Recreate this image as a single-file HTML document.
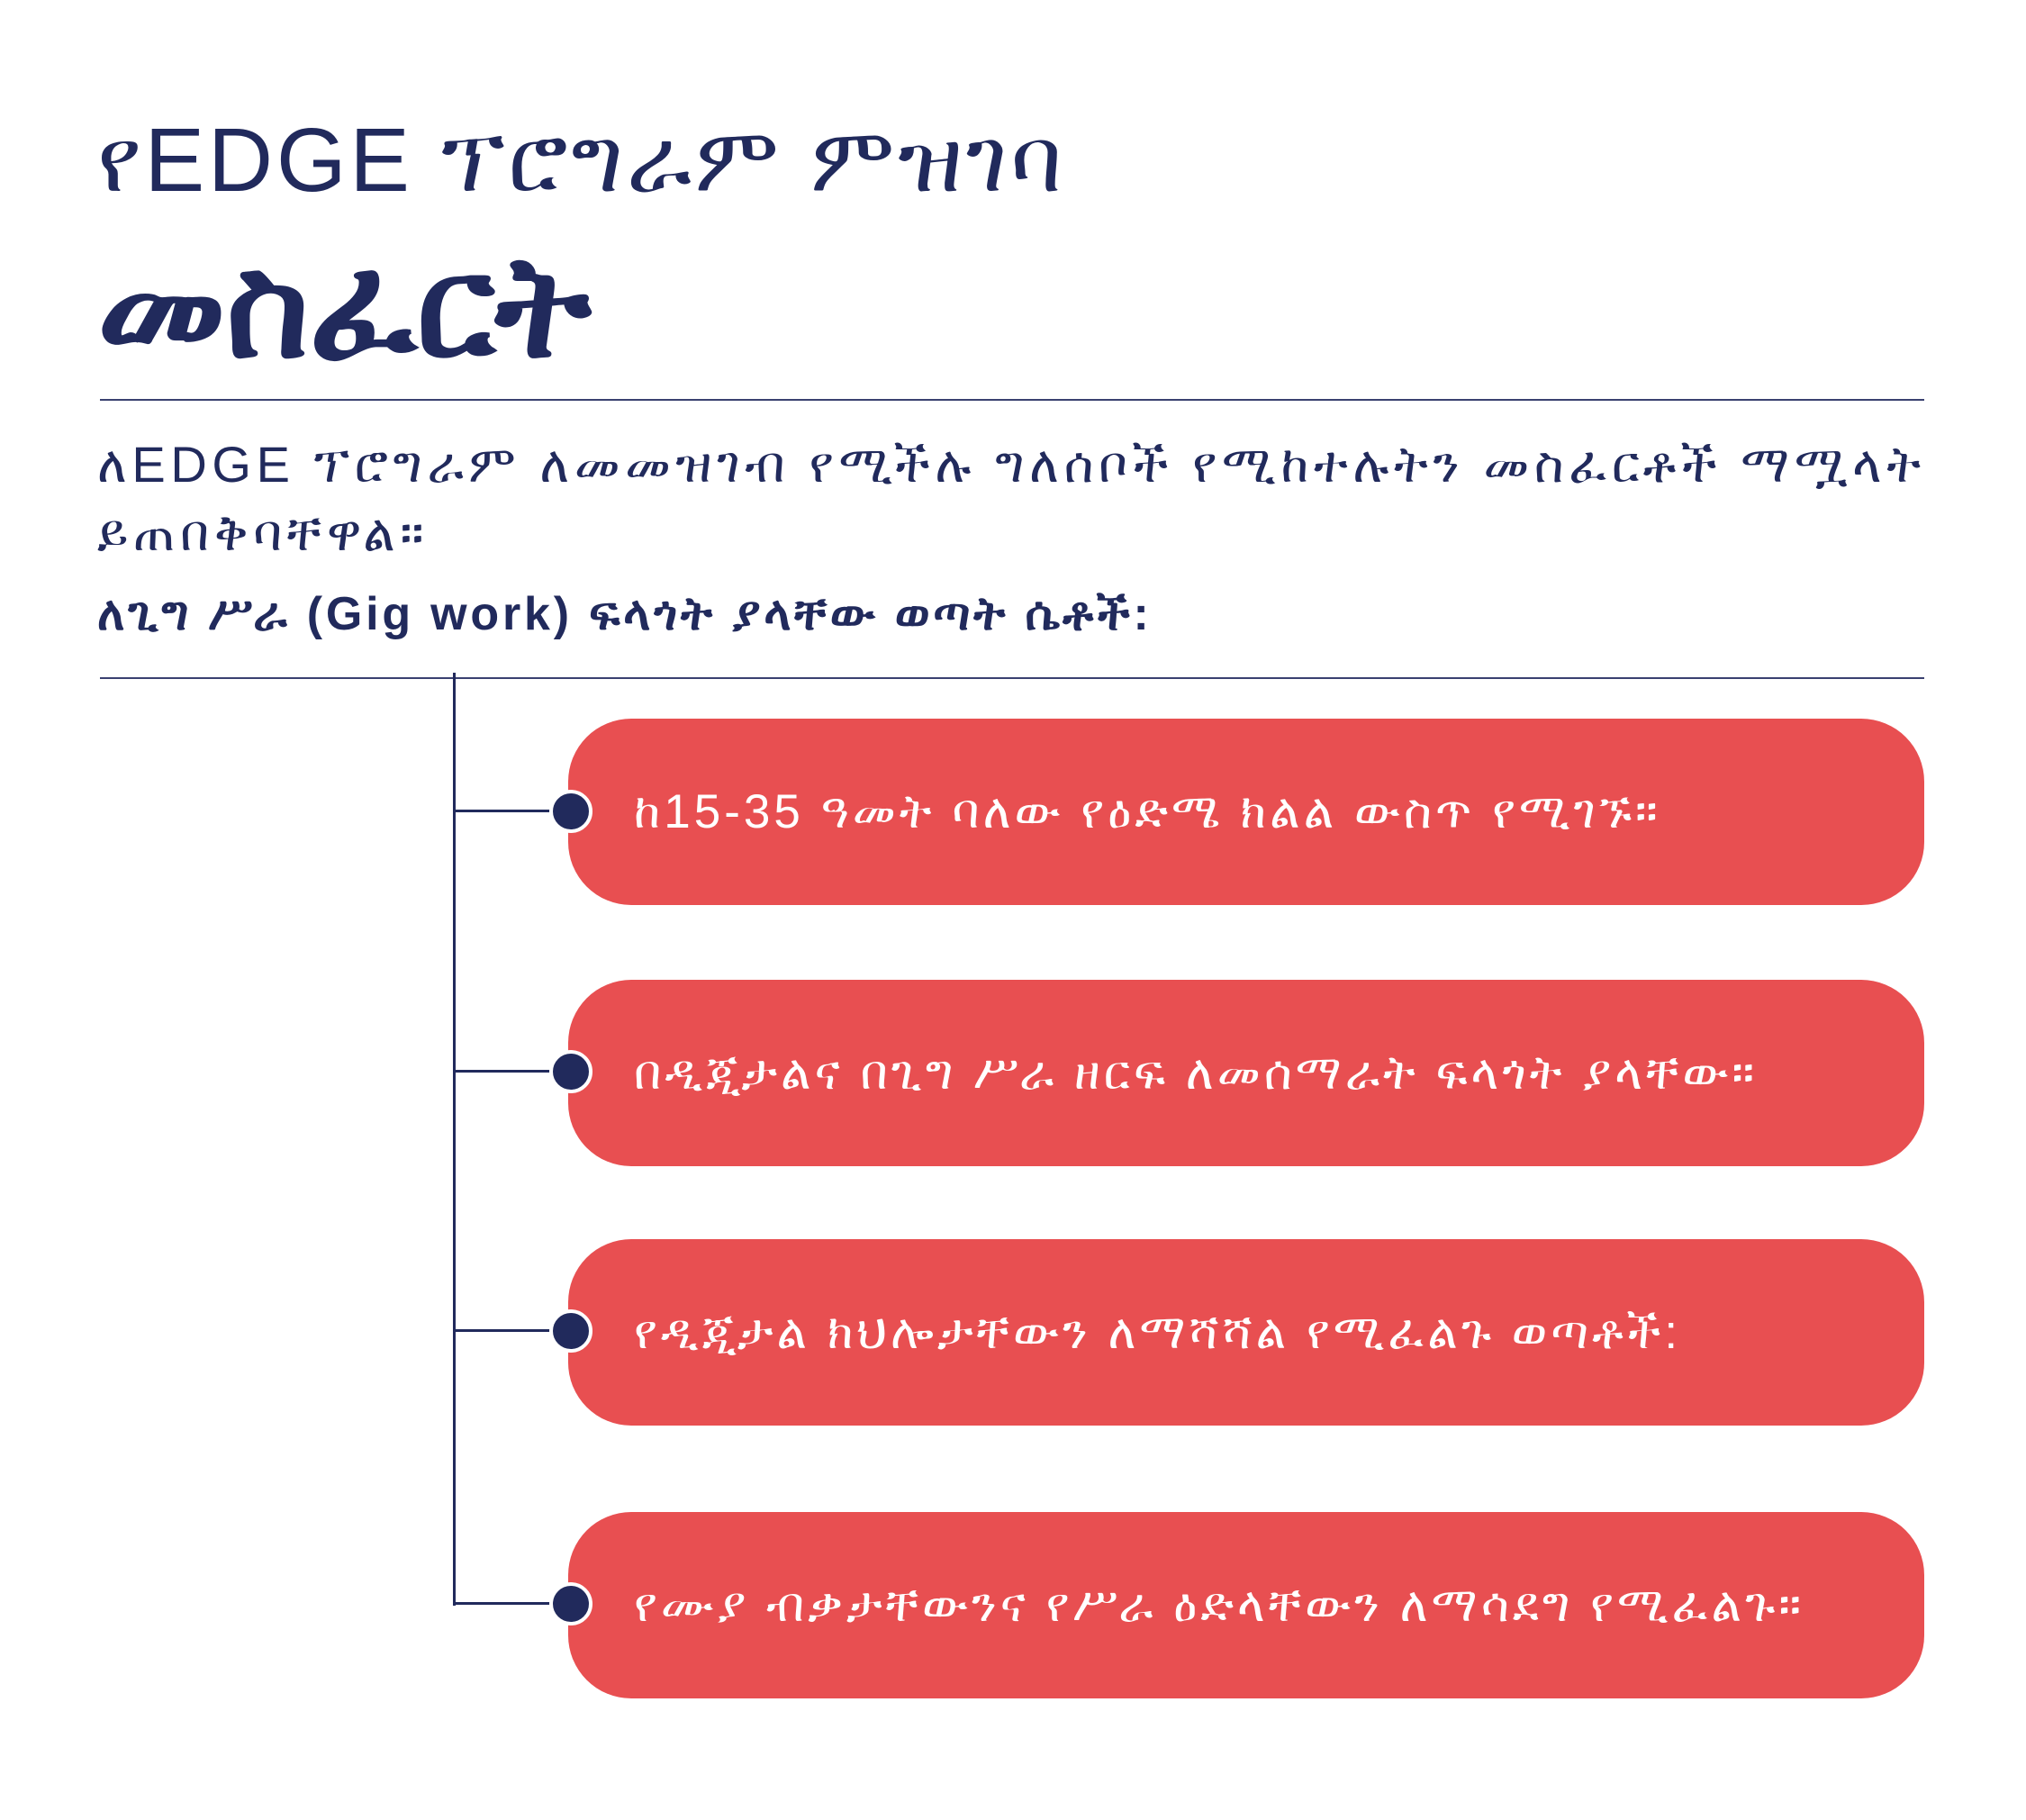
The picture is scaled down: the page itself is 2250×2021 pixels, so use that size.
<!DOCTYPE html>
<html><head><meta charset="utf-8"><style>
html,body{margin:0;padding:0;background:#fff;}
body{width:2250px;height:2021px;position:relative;overflow:hidden;font-family:"Liberation Sans","DejaVu Sans",sans-serif;color:#212a5c;}
.t{position:absolute;white-space:nowrap;line-height:1;}
.rule{position:absolute;left:111px;width:2026px;height:2px;background:#3a4170;}
.box{position:absolute;left:631px;width:1506px;height:207px;background:#e84f51;border-radius:70px;}
.box span{position:absolute;left:73px;top:50%;transform:translateY(-50%);color:#fff;font-size:53px;letter-spacing:4px;white-space:nowrap;}
.dot{position:absolute;left:610px;width:40px;height:40px;border-radius:50%;background:#212a5c;border:4px solid #fff;box-sizing:content-box;}
.h{position:absolute;left:504px;width:110px;height:3px;background:#212a5c;}
</style></head><body>
<div class="t" style="left:108px;top:128px;font-size:100px;letter-spacing:3.7px;">የEDGE ፕሮግራም ምዝገባ</div>
<div class="t" style="left:108px;top:262px;font-size:158px;font-weight:bold;">መስፈርት</div>
<div class="rule" style="top:443px;"></div>
<div class="t" style="left:108px;top:488px;font-size:56px;letter-spacing:5.6px;">ለEDGE ፕሮግራም ለመመዝገብ የሚችሉ ግለሰቦች የሚከተሉትን መስፈርቶች ማሟላት</div>
<div class="t" style="left:108px;top:564px;font-size:56px;letter-spacing:5.6px;">ይጠበቅባቸዋል።</div>
<div class="t" style="left:108px;top:656px;font-size:52px;font-weight:bold;letter-spacing:3.8px;">ለጊግ ሥራ (Gig work) ፍላጎት ያላቸው ወጣት ሴቶች:</div>
<div class="rule" style="top:752px;"></div>
<div style="position:absolute;left:503px;top:747px;width:3px;height:1036px;background:#212a5c;"></div>
<div class="box" style="top:798px;"><span>ከ15-35 ዓመት ባለው የዕድሜ ክልል ውስጥ የሚገኙ።</span></div>
<div class="box" style="top:1088px;"><span>በዲጂታልና በጊግ ሥራ ዘርፍ ለመሰማራት ፍላጎት ያላቸው።</span></div>
<div class="box" style="top:1376px;"><span>የዲጂታል ክህሎታቸውን ለማሻሻል የሚፈልጉ ወጣቶች:</span></div>
<div class="box" style="top:1679px;"><span>የሙያ ብቃታቸውንና የሥራ ዕድላቸውን ለማሳደግ የሚፈልጉ።</span></div>
<div class="h" style="top:899px;"></div><div class="dot" style="top:877px;"></div>
<div class="h" style="top:1188px;"></div><div class="dot" style="top:1166px;"></div>
<div class="h" style="top:1476px;"></div><div class="dot" style="top:1454px;"></div>
<div class="h" style="top:1779px;"></div><div class="dot" style="top:1757px;"></div>
</body></html>
